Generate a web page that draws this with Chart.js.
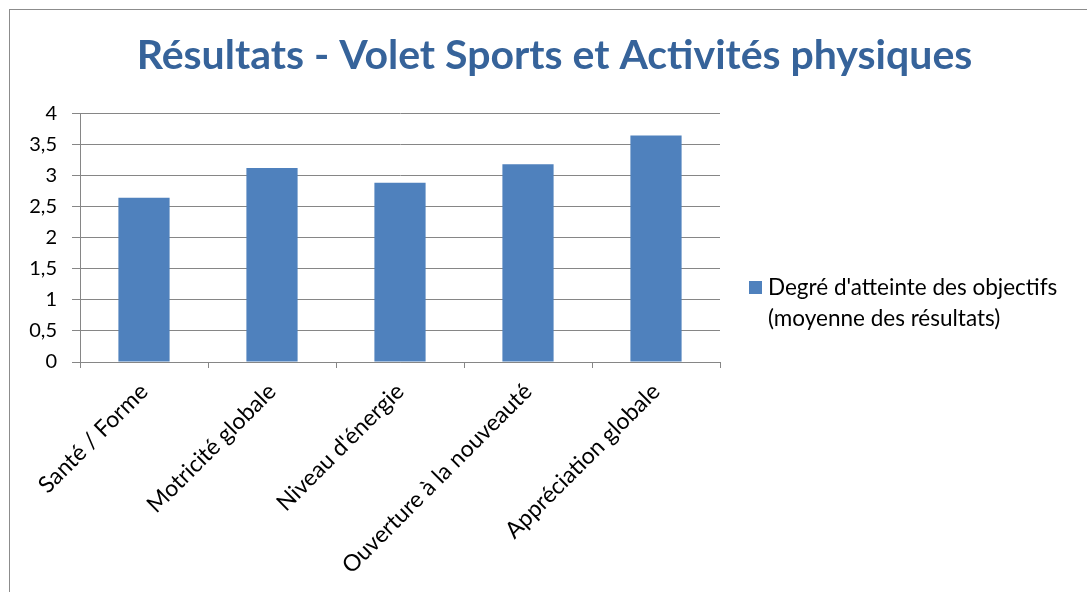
<!DOCTYPE html>
<html>
<head>
<meta charset="utf-8">
<script src="https://cdn.jsdelivr.net/npm/chart.js@4/dist/chart.umd.min.js"></script>
<style>
  html, body { margin: 0; padding: 0; background: #fff; }
  #wrap { width: 1087px; height: 592px; position: relative; }
</style>
</head>
<body>
<div id="wrap"><canvas id="chart" width="1087" height="592"></canvas></div>
<script>
const titleText = 'Résultats - Volet Sports et Activités physiques';
const categories = ['Santé / Forme', 'Motricité globale', "Niveau d'énergie", 'Ouverture à la nouveauté', 'Appréciation globale'];
const seriesLabel = ["Degré d'atteinte des objectifs", '(moyenne des résultats)'];
const seriesValues = [2.64, 3.12, 2.88, 3.18, 3.64];

const FONT = 'Lato, "Open Sans", sans-serif';

// frame + legend drawn by hand, like the Excel export
const frameAndLegend = {
    id: 'frameAndLegend',
    beforeDraw(chart) {
        const ctx = chart.ctx;
        ctx.save();
        ctx.strokeStyle = '#8c8c8c';
        ctx.lineWidth = 1;
        ctx.strokeRect(9.5, 9.5, chart.width + 20, chart.height + 20);
        ctx.restore();
    },
    afterDraw(chart) {
        const ctx = chart.ctx;
        const ds = chart.data.datasets[0];
        const lines = ds.label;
        const x = chart.chartArea.right + 29;
        const lineH = 31;
        const top = chart.height / 2 - 8;
        ctx.save();
        ctx.fillStyle = ds.backgroundColor;
        ctx.fillRect(x, top - 7, 13, 13);
        ctx.fillStyle = '#000';
        ctx.font = '22.5px ' + FONT;
        ctx.textBaseline = 'middle';
        lines.forEach((l, i) => ctx.fillText(l, x + 19, top + i * lineH));
        ctx.restore();
    }
};

new Chart(document.getElementById('chart').getContext('2d'), {
    type: 'bar',
    data: {
        labels: categories,
        datasets: [{
            label: seriesLabel,
            data: seriesValues,
            backgroundColor: '#4F81BD',
            borderWidth: 0,
            barPercentage: 0.4,
            categoryPercentage: 1
        }]
    },
    options: {
        responsive: false,
        animation: false,
        layout: { padding: { left: 22, right: 0, top: 0, bottom: 0 } },
        scales: {
            x: {
                grid: { drawOnChartArea: false, color: '#868686', tickLength: 6, offset: true },
                border: { color: '#868686' },
                ticks: {
                    color: '#000',
                    font: { family: FONT, size: 23 },
                    maxRotation: 45,
                    minRotation: 45,
                    padding: 10
                },
                afterFit(scale) { scale.height = 230; }
            },
            y: {
                min: 0,
                max: 4,
                grid: { color: '#868686', tickLength: 8 },
                border: { color: '#868686' },
                ticks: {
                    stepSize: 0.5,
                    color: '#000',
                    font: { family: FONT, size: 20 },
                    padding: 15,
                    callback: v => String(v).replace('.', ',')
                },
                afterFit(scale) { scale.width = 58; }
            },
            // empty right-hand axis that reserves the legend column
            yRight: {
                position: 'right',
                grid: { display: false, drawTicks: false },
                border: { display: false },
                ticks: { display: false },
                afterFit(scale) { scale.width = 367; }
            }
        },
        plugins: {
            legend: { display: false },
            tooltip: { enabled: false },
            title: {
                display: true,
                text: titleText,
                color: '#36639A',
                font: { family: FONT, size: 41, weight: 'bold' },
                padding: { top: 31, bottom: 33 }
            }
        }
    },
    plugins: [frameAndLegend]
});
</script>
</body>
</html>
